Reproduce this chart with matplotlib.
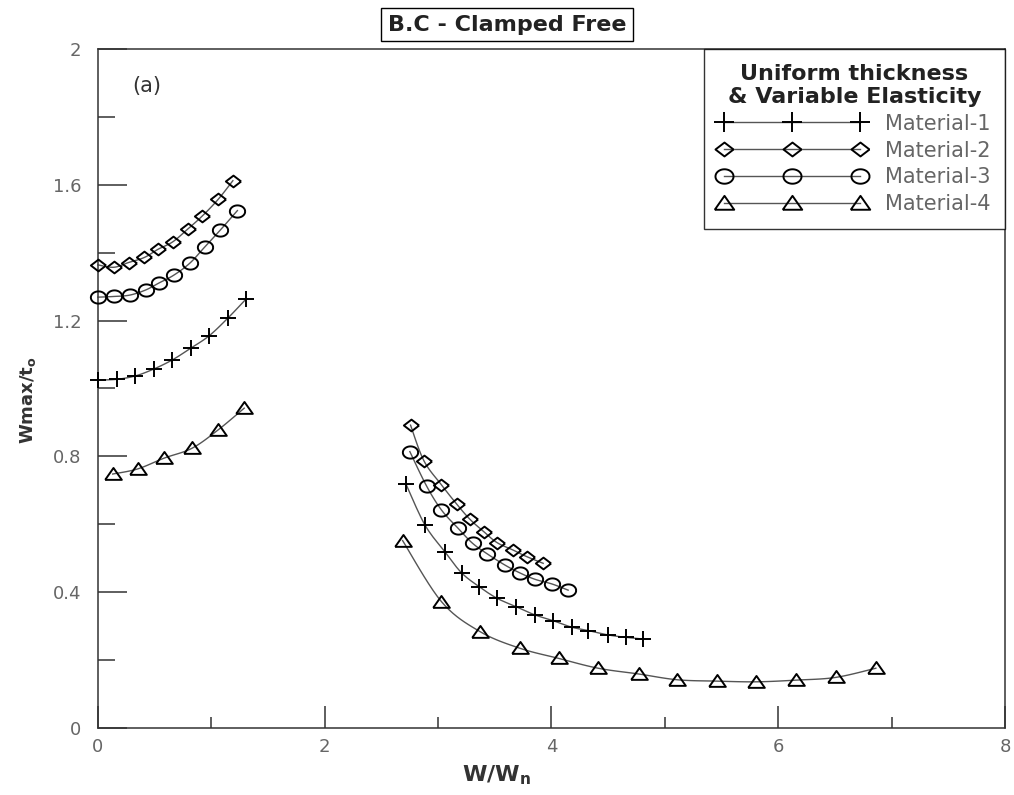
import matplotlib
matplotlib.use("Agg")
import matplotlib.pyplot as plt
import numpy as np
from matplotlib.path import Path
from matplotlib.ticker import MultipleLocator

# Material-1 (+)
m1_left_x = [0.0, 0.165, 0.33, 0.49, 0.655, 0.82, 0.98, 1.145, 1.305]
m1_left_y = [1.025, 1.027, 1.037, 1.057, 1.084, 1.119, 1.155, 1.207, 1.263]
m1_right_x = [2.716, 2.884, 3.06, 3.207, 3.363, 3.52, 3.69, 3.854, 4.015, 4.177, 4.324, 4.5, 4.656, 4.809]
m1_right_y = [0.719, 0.598, 0.519, 0.457, 0.416, 0.382, 0.357, 0.333, 0.316, 0.297, 0.287, 0.274, 0.267, 0.262]

# Material-2 (diamond)
m2_left_x = [0.0, 0.14, 0.27, 0.41, 0.53, 0.66, 0.79, 0.92, 1.06, 1.19]
m2_left_y = [1.364, 1.357, 1.371, 1.386, 1.41, 1.432, 1.469, 1.508, 1.557, 1.612]
m2_right_x = [2.757, 2.875, 3.03, 3.163, 3.28, 3.404, 3.52, 3.662, 3.78, 3.927]
m2_right_y = [0.892, 0.787, 0.716, 0.66, 0.615, 0.578, 0.546, 0.524, 0.505, 0.485]

# Material-3 (circle)
m3_left_x = [0.0, 0.14, 0.28, 0.42, 0.54, 0.67, 0.81, 0.94, 1.08, 1.23]
m3_left_y = [1.269, 1.271, 1.275, 1.29, 1.311, 1.334, 1.369, 1.416, 1.467, 1.524]
m3_right_x = [2.751, 2.898, 3.03, 3.177, 3.304, 3.433, 3.589, 3.72, 3.854, 4.006, 4.147]
m3_right_y = [0.814, 0.713, 0.642, 0.588, 0.544, 0.513, 0.48, 0.457, 0.438, 0.424, 0.406]

# Material-4 (triangle)
m4_left_x = [0.13, 0.35, 0.585, 0.83, 1.06, 1.29]
m4_left_y = [0.748, 0.763, 0.795, 0.824, 0.878, 0.942]
m4_right_x = [2.687, 3.03, 3.369, 3.72, 4.063, 4.412, 4.77, 5.11, 5.46, 5.808, 6.161, 6.508, 6.861]
m4_right_y = [0.552, 0.372, 0.284, 0.235, 0.205, 0.176, 0.159, 0.142, 0.138, 0.136, 0.141, 0.149, 0.176]

labels = ["Material-1", "Material-2", "Material-3", "Material-4"]


def smooth(x, y, n=10):
    # catmull-rom curve through the points, for a smooth connecting line
    p = np.column_stack([x, y]).astype(float)
    p = np.vstack([p[0], p, p[-1]])
    out = []
    t = np.linspace(0, 1, n, endpoint=False)[:, None]
    for i in range(1, len(p) - 2):
        p0, p1, p2, p3 = p[i - 1], p[i], p[i + 1], p[i + 2]
        seg = 0.5 * ((2 * p1) + (-p0 + p2) * t + (2 * p0 - 5 * p1 + 4 * p2 - p3) * t ** 2
                     + (-p0 + 3 * p1 - 3 * p2 + p3) * t ** 3)
        out.append(seg)
    out.append(p[-2][None, :])
    out = np.vstack(out)
    return out[:, 0], out[:, 1]


# stretched marker shapes
ang = np.linspace(0, 2 * np.pi, 60)
ellipse = Path(np.column_stack([1.25 * np.cos(ang), np.sin(ang)]))
diamond = Path([(1.3, 0), (0, 1), (-1.3, 0), (0, -1), (1.3, 0)])
triangle = Path([(-1.4, -0.9), (1.4, -0.9), (0, 1.1), (-1.4, -0.9)])

markers = ["+", diamond, ellipse, triangle]
sizes = [12, 11, 11, 12]
series = [(m1_left_x, m1_left_y, m1_right_x, m1_right_y),
          (m2_left_x, m2_left_y, m2_right_x, m2_right_y),
          (m3_left_x, m3_left_y, m3_right_x, m3_right_y),
          (m4_left_x, m4_left_y, m4_right_x, m4_right_y)]

fig = plt.figure(figsize=(10.14, 7.95), dpi=100)
ax = fig.add_axes([0.0966, 0.0843, 0.8945, 0.8541])

line_col = "#555555"
handles = []
for (lx, ly, rx, ry), mk, ms, lab in zip(series, markers, sizes, labels):
    for xs, ys in [(lx, ly), (rx, ry)]:
        sx, sy = smooth(xs, ys)
        ax.plot(sx, sy, color=line_col, lw=1.0, clip_on=False, zorder=2)
        ax.plot(xs, ys, linestyle="none", marker=mk, ms=ms, mfc="none", mec="black",
                mew=1.4, clip_on=False, zorder=3)
    h, = ax.plot([], [], color=line_col, lw=1.0, marker=mk, ms=ms + 2, mfc="none",
                 mec="black", mew=1.4, label=lab)
    handles.append(h)

ax.set_xlim(0, 8)
ax.set_ylim(0, 2)
ax.xaxis.set_major_locator(MultipleLocator(2))
ax.xaxis.set_minor_locator(MultipleLocator(1))
ax.yaxis.set_minor_locator(MultipleLocator(0.2))
ax.set_yticks([0, 0.4, 0.8, 1.2, 1.6, 2.0])
ax.set_yticklabels(["0", "0.4", "0.8", "1.2", "1.6", "2"])

ax.tick_params(axis="x", which="major", direction="in", length=16, width=1.1,
               color="#333333", pad=7, labelsize=13, labelcolor="#666666")
ax.tick_params(axis="x", which="minor", direction="in", length=8, width=1.1, color="#333333")
ax.tick_params(axis="y", which="major", direction="in", length=21, width=1.1,
               color="#333333", pad=12, labelsize=13, labelcolor="#666666")
ax.tick_params(axis="y", which="minor", direction="in", length=12, width=1.1, color="#333333")
for s in ax.spines.values():
    s.set_color("#333333")
    s.set_linewidth(1.1)

ax.set_xlabel(r"W/W$_\mathregular{n}$", fontsize=16, fontweight="bold", color="#333333")
ax.xaxis.set_label_coords(0.44, -0.052)
ax.set_ylabel(r"Wmax/t$_\mathregular{o}$", fontsize=13, fontweight="bold", color="#333333")
ax.yaxis.set_label_coords(-0.066, 0.483)

ax.text(0.43, 1.89, "(a)", fontsize=15, color="#333333", ha="center", va="center")

fig.text(0.5, 0.969, "B.C - Clamped Free", fontsize=16, fontweight="bold", color="#222222",
         ha="center", va="center",
         bbox=dict(boxstyle="square,pad=0.3", fc="white", ec="black", lw=1.0))

leg = ax.legend(handles=handles, loc="upper right", borderaxespad=0, numpoints=3,
                handlelength=7.1, handletextpad=0.9, labelspacing=0.33, fontsize=15,
                title="Uniform thickness\n& Variable Elasticity", frameon=True,
                fancybox=False, borderpad=0.7)
leg.get_frame().set_edgecolor("black")
leg.get_frame().set_linewidth(1.0)
plt.setp(leg.get_title(), fontsize=16, fontweight="bold", color="#222222", multialignment="center")
for t in leg.get_texts():
    t.set_color("#666666")

plt.savefig("out.png", dpi=100)
